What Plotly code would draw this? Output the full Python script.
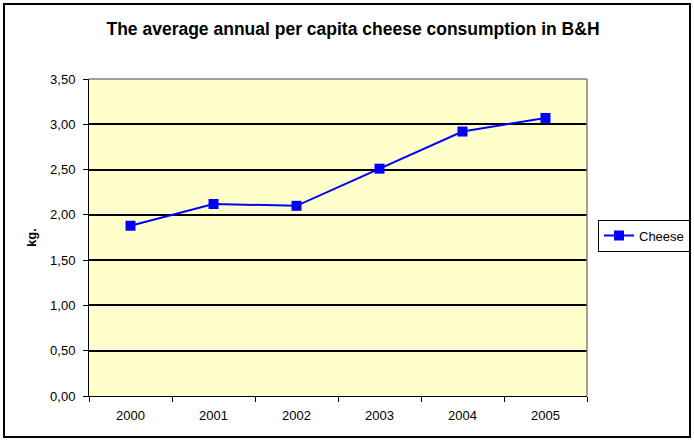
import plotly.graph_objects as go

years = ["2000", "2001", "2002", "2003", "2004", "2005"]
cheese = [1.88, 2.12, 2.10, 2.51, 2.92, 3.07]
y_ticks = [0, 0.5, 1.0, 1.5, 2.0, 2.5, 3.0, 3.5]

W, H = 694, 441
L, R, T, B = 89, 107, 79, 45
pw, ph = W - L - R, H - T - B

def px2x(p):
    return (p - L) / pw

def px2y(p):
    return 1 - (p - T) / ph

fig = go.Figure()
fig.add_trace(go.Scatter(
    x=years, y=cheese, name="Cheese", mode="lines+markers",
    line=dict(color="#0000FF", width=2),
    marker=dict(symbol="square", size=10, color="#0000FF"),
    hoverinfo="skip",
))

fig.update_layout(
    width=W, height=H,
    margin=dict(l=L, r=R, t=T, b=B, autoexpand=False),
    paper_bgcolor="white",
    plot_bgcolor="#FFFFCC",
    separators=", ",
    font=dict(family="Liberation Sans, Arial, sans-serif", size=13, color="black"),
    title=dict(text="<b>The average annual per capita cheese consumption in B&H</b>",
               x=353 / W, xanchor="center", y=1 - 29 / H, yanchor="middle",
               font=dict(size=17.5, color="black")),
    showlegend=True,
    legend=dict(x=px2x(598), xanchor="left", y=px2y(235.5), yanchor="middle",
                bordercolor="black", borderwidth=1, bgcolor="white",
                font=dict(size=13), itemwidth=30,
                tracegroupgap=0),
    xaxis=dict(type="category", tickson="boundaries", ticks="outside", ticklen=5,
               tickcolor="black", showline=True, linecolor="black", linewidth=1,
               showgrid=False, zeroline=False, fixedrange=True,
               range=[-0.5, 5.5], tickfont=dict(size=13), ticklabelstandoff=7),
    yaxis=dict(range=[0, 3.5], tickvals=y_ticks, tickformat=".2f",
               ticks="outside", ticklen=5, tickcolor="black",
               showline=True, linecolor="black", linewidth=1,
               showgrid=True, gridcolor="black", gridwidth=1.5,
               zeroline=False, fixedrange=True, ticklabelstandoff=5,
               title=dict(text="<b>kg.</b>", standoff=10, font=dict(size=13)),
               tickfont=dict(size=13)),
)

# plot-area top and right border (gray)
fig.add_shape(type="line", xref="paper", yref="paper", x0=0, x1=1, y0=1, y1=1,
              line=dict(color="#808080", width=1.5))
fig.add_shape(type="line", xref="paper", yref="paper", x0=1, x1=1, y0=0, y1=1,
              line=dict(color="#808080", width=1.5))
# outer chart border
fig.add_shape(type="rect", xref="paper", yref="paper",
              x0=px2x(4), x1=px2x(690), y0=px2y(437), y1=px2y(4),
              line=dict(color="black", width=2), fillcolor="rgba(0,0,0,0)")

fig.write_html("out.html", config={"displayModeBar": False},
               post_script="document.body.style.margin='0';")
